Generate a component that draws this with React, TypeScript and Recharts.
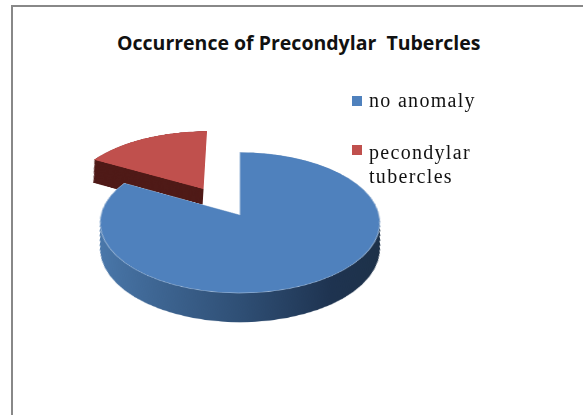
import { Cell, Pie, PieChart } from "recharts";

const categories = ["no anomaly", "pecondylar tubercles"];
const shares = [83, 17];
const legendLines = [["no anomaly"], ["pecondylar", "tubercles"]];

const data = categories.map((name, i) => ({ name, value: shares[i] }));

const BLUE = "#4f81bd";
const RED = "#c0504d";
const RED_SIDE = "#4f1a17";
const SIZE = 460;
const CENTER = SIZE / 2;
const RADIUS = 139;
const DEPTH = 50;
const RED_DX = -38;
const RED_DY = -54;

const depthSteps = Array.from({ length: DEPTH / 2 + 1 }, (_, i) => DEPTH - i * 2);

// the tilt makes lower layers look bigger, so they get pulled in a little
const radiusAt = (d: number) => RADIUS * (1 - d * 0.0008);

// one pie layer, only the slice at "show" gets painted
function layer(key: string, cx: number, cy: number, r: number, show: number, fill: string, stroke = "none") {
  return (
    <Pie
      key={key}
      data={data}
      dataKey="value"
      cx={cx}
      cy={cy}
      outerRadius={r}
      startAngle={90}
      endAngle={-270}
      stroke="none"
      isAnimationActive={false}
      legendType="none"
    >
      {data.map((d, i) => (
        <Cell
          key={d.name}
          fill={i === show ? fill : "transparent"}
          stroke={i === show ? stroke : "none"}
          strokeWidth={1}
        />
      ))}
    </Pie>
  );
}

export default function App() {
  return (
    <div
      style={{
        position: "absolute",
        left: 0,
        top: 0,
        width: 583,
        height: 415,
        overflow: "hidden",
        background: "#fff",
      }}
    >
      <div
        style={{
          position: "absolute",
          left: 11,
          top: 5,
          width: 600,
          height: 440,
          border: "2px solid #888",
          boxSizing: "border-box",
        }}
      />
      <div
        style={{
          position: "absolute",
          left: 117,
          top: 29,
          fontFamily: "'Open Sans', sans-serif",
          fontWeight: 700,
          fontSize: 19.5,
          whiteSpace: "pre",
          color: "#111",
        }}
      >
        {"Occurrence of Precondylar  Tubercles"}
      </div>

      <div
        style={{
          position: "absolute",
          left: 240 - CENTER,
          top: 215 - CENTER,
          width: SIZE,
          height: SIZE,
          transformOrigin: "50% 50%",
          transform: "perspective(1100px) rotateX(60deg)",
        }}
      >
        <PieChart width={SIZE} height={SIZE} margin={{ top: 0, right: 0, bottom: 0, left: 0 }}>
          <defs>
            <linearGradient id="blueSide" x1="0" y1="0" x2="1" y2="0">
              <stop offset="0%" stopColor="#4a78ab" />
              <stop offset="50%" stopColor="#2f4f75" />
              <stop offset="80%" stopColor="#1e3350" />
              <stop offset="100%" stopColor="#1d3148" />
            </linearGradient>
          </defs>
          {depthSteps.map((d) =>
            layer(`red-${d}`, CENTER + RED_DX, CENTER + RED_DY + d, radiusAt(d), 1, RED_SIDE)
          )}
          {layer("red-top", CENTER + RED_DX, CENTER + RED_DY, RADIUS, 1, RED)}
          {depthSteps.map((d) => layer(`blue-${d}`, CENTER, CENTER + d, radiusAt(d), 0, "url(#blueSide)"))}
          {layer("blue-top", CENTER, CENTER, RADIUS, 0, BLUE, "#9db8d8")}
        </PieChart>
      </div>

      {legendLines.map((lines, i) => (
        <div key={categories[i]}>
          <div
            style={{
              position: "absolute",
              left: 352,
              top: i === 0 ? 96 : 145,
              width: 10,
              height: 10,
              background: i === 0 ? BLUE : RED,
            }}
          />
          {lines.map((line, j) => (
            <div
              key={line}
              style={{
                position: "absolute",
                left: 369,
                top: (i === 0 ? 88 : 140) + j * 24,
                fontFamily: "'Liberation Serif', serif",
                fontSize: 20,
                letterSpacing: 1.3,
                lineHeight: "24px",
                color: "#111",
                whiteSpace: "pre",
              }}
            >
              {line}
            </div>
          ))}
        </div>
      ))}
    </div>
  );
}
